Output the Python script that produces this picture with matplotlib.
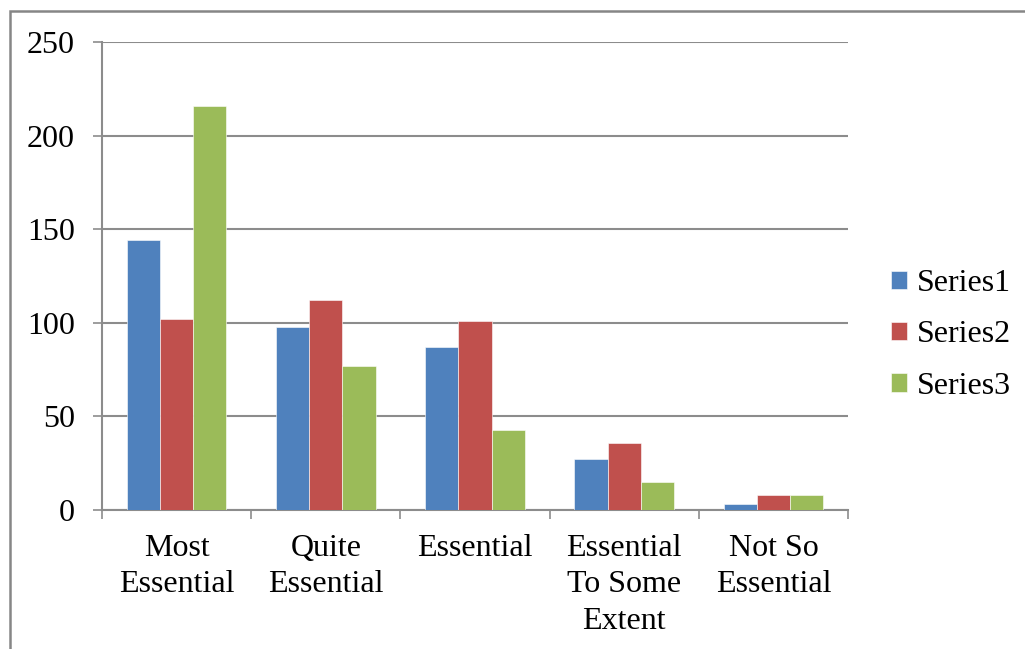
import numpy as np
import matplotlib
matplotlib.use('Agg')
import matplotlib.pyplot as plt
from matplotlib.patches import Rectangle

categories = ["Most\nEssential", "Quite\nEssential", "Essential",
              "Essential\nTo Some\nExtent", "Not So\nEssential"]
series_names = ["Series1", "Series2", "Series3"]
series1 = [144, 98, 87, 27, 3]
series2 = [102, 112, 101, 36, 8]
series3 = [216, 77, 43, 15, 8]
y_ticks = [0, 50, 100, 150, 200, 250]

colors = ["#4F81BD", "#C0504D", "#9BBB59"]
grid_gray = "#8C8C8C"
fs = 23

plt.rcParams['font.family'] = ['Liberation Serif', 'DejaVu Serif']

fig = plt.figure(figsize=(10.25, 6.49), dpi=100)
ax = fig.add_axes([102 / 1025, 1 - 510 / 649, 746 / 1025, 468 / 649])

x = np.arange(len(categories))
bar_w = 1 / 4.5
for i, (vals, name) in enumerate(zip([series1, series2, series3], series_names)):
    ax.bar(x + (i - 1) * bar_w, vals, width=bar_w, color=colors[i],
           edgecolor='white', linewidth=0.4, label=name, zorder=3)

ax.set_xlim(-0.5, len(categories) - 0.5)
ax.set_ylim(0, 250)
ax.set_yticks(y_ticks)
ax.yaxis.grid(True, color=grid_gray, linewidth=1.5, zorder=0)

# category boundary ticks, labels sit on the centres
ax.set_xticks(np.arange(-0.5, len(categories)), labels=[])
ax.set_xticks(x, labels=categories, minor=True)
for lbl in ax.get_xticklabels(minor=True):
    lbl.set_linespacing(1.34)
ax.tick_params(axis='x', which='major', length=6.5, width=1.2, color=grid_gray)
ax.tick_params(axis='x', which='minor', length=0, pad=17, labelsize=fs)
ax.tick_params(axis='y', length=6.5, width=1.2, color=grid_gray, pad=13, labelsize=fs)

for side in ['top', 'right']:
    ax.spines[side].set_visible(False)
for side in ['left', 'bottom']:
    ax.spines[side].set_color(grid_gray)
    ax.spines[side].set_linewidth(1.5)

ax.legend(loc='center left', bbox_to_anchor=(875 / 1025, 1 - 335 / 649),
          bbox_transform=fig.transFigure, frameon=False, fontsize=fs,
          handlelength=0.5, handleheight=0.5, handletextpad=0.3,
          labelspacing=0.7, borderpad=0)

# chart area border
fig.add_artist(Rectangle((10 / 1025, -0.2), 1.5, 1.2 - 11 / 649,
                         transform=fig.transFigure, fill=False,
                         edgecolor='#868686', linewidth=1.8))

fig.savefig('out.png', dpi=100)
